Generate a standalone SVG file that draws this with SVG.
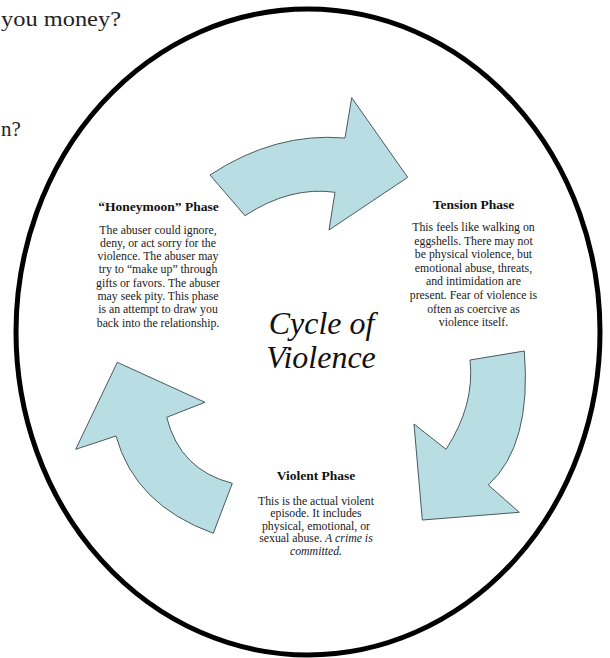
<svg xmlns="http://www.w3.org/2000/svg" width="610" height="658" viewBox="0 0 610 658">
<style>
.bg{fill:#ffffff}
.frame{fill:none;stroke:#000;stroke-width:5}
.arrow{fill:#b8dde2;stroke:#4a5a5e;stroke-width:1;stroke-linejoin:miter}
.ttl{font-family:"Liberation Serif","Times New Roman",serif;font-weight:bold;font-size:13.5px;fill:#111;text-anchor:middle}
.body{font-family:"Liberation Serif","Times New Roman",serif;font-size:11.8px;fill:#1a1a1a;text-anchor:middle}
.it{font-style:italic}
.center{font-family:"Liberation Serif","Times New Roman",serif;font-style:italic;font-size:32px;fill:#111;text-anchor:middle}
.side{font-family:"Liberation Serif","Palatino Linotype",serif;font-size:21px;fill:#222}
</style>
<rect class="bg" x="0" y="0" width="610" height="658"/>
<g id="page-text">
<text class="side" x="1" y="26" textLength="120" lengthAdjust="spacingAndGlyphs">you money?</text>
<text class="side" x="1" y="136">n?</text>
</g>
<g id="frame">
<ellipse class="frame" cx="308" cy="332" rx="292" ry="323"/>
</g>
<g id="connectors">
<path id="arrow-honeymoon-tension" class="arrow" d="M210,175 Q275,132 345,138 L351.7,97.7 L407.7,177.3 L329,230 L335,192.3 Q290,186 245,215.7 Z"/>
<path id="arrow-tension-violent" class="arrow" d="M470,360 L524.3,351 Q532,445 488.3,485 L519.3,512.3 L422.3,520 L414,424 L446,449.3 Q475,405 470,360 Z"/>
<path id="arrow-violent-honeymoon" class="arrow" d="M117.3,362.3 L205,402.3 L166.7,417.3 Q180,470 232.3,483.3 L213.3,533.3 Q135,505 116,436 L75.7,449.3 Z"/>
</g>
<g id="node-honeymoon">
<text class="ttl" x="158.5" y="211">“Honeymoon” Phase</text>
<text class="body" x="158" y="233.5">The abuser could ignore,</text>
<text class="body" x="158" y="246.8">deny, or act sorry for the</text>
<text class="body" x="158" y="260.1">violence. The abuser may</text>
<text class="body" x="158" y="273.4">try to “make up” through</text>
<text class="body" x="158" y="286.7">gifts or favors. The abuser</text>
<text class="body" x="158" y="300">may seek pity. This phase</text>
<text class="body" x="158" y="313.3">is an attempt to draw you</text>
<text class="body" x="158" y="326.6">back into the relationship.</text>
</g>
<g id="node-tension">
<text class="ttl" x="473.5" y="208.5">Tension Phase</text>
<text class="body" x="473.5" y="231">This feels like walking on</text>
<text class="body" x="473.5" y="244.6">eggshells. There may not</text>
<text class="body" x="473.5" y="258.2">be physical violence, but</text>
<text class="body" x="473.5" y="271.8">emotional abuse, threats,</text>
<text class="body" x="473.5" y="285.4">and intimidation are</text>
<text class="body" x="473.5" y="299">present. Fear of violence is</text>
<text class="body" x="473.5" y="312.6">often as coercive as</text>
<text class="body" x="473.5" y="326.2">violence itself.</text>
</g>
<g id="node-center">
<text class="center" x="321.5" y="333.5">Cycle of</text>
<text class="center" x="321" y="367.5">Violence</text>
</g>
<g id="node-violent">
<text class="ttl" x="316" y="480">Violent Phase</text>
<text class="body" x="316" y="504.5">This is the actual violent</text>
<text class="body" x="316" y="517">episode. It includes</text>
<text class="body" x="316" y="529.5">physical, emotional, or</text>
<text class="body" x="316" y="542">sexual abuse. <tspan class="it">A crime is</tspan></text>
<text class="body it" x="316" y="554.5">committed.</text>
</g>
</svg>
